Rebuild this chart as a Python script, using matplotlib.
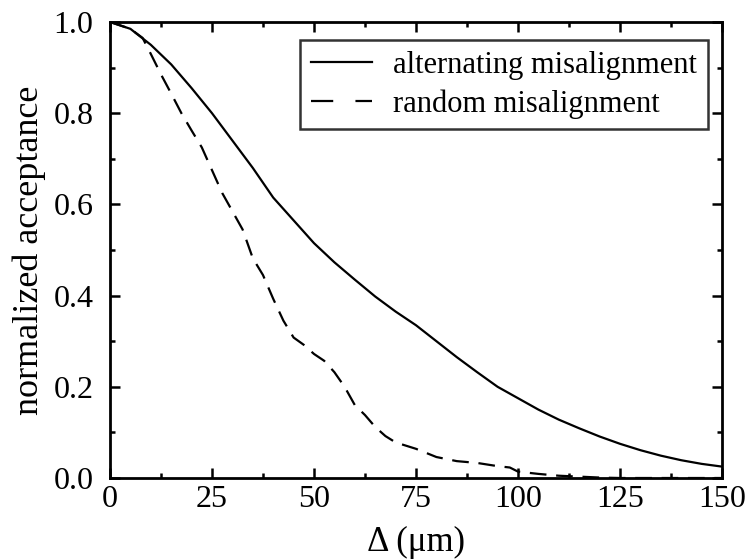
import matplotlib
matplotlib.use("Agg")
import matplotlib.pyplot as plt
from matplotlib.lines import Line2D
from matplotlib.ticker import MultipleLocator

plt.rcParams['font.family'] = ['Liberation Serif', 'DejaVu Serif']
plt.rcParams['lines.scale_dashes'] = False

# alternating misalignment (solid)
x_alt = [0, 5, 10, 15, 20, 25, 30, 35, 40, 45, 50, 55, 60, 65, 70, 75, 80, 85, 90,
         95, 100, 105, 110, 115, 120, 125, 130, 135, 140, 145, 150]
y_alt = [1.0, 0.985, 0.95, 0.907, 0.855, 0.80, 0.74, 0.68, 0.615, 0.565, 0.515, 0.473,
         0.435, 0.398, 0.365, 0.335, 0.30, 0.265, 0.232, 0.200, 0.175, 0.150, 0.128,
         0.109, 0.091, 0.075, 0.061, 0.049, 0.039, 0.031, 0.025]

# random misalignment (dashed)
x_rnd = [0, 5, 8, 10, 12.5, 15, 17.5, 20, 22.5, 25, 27.5, 30, 32.5, 35, 37.5, 40, 42.5,
         45, 47.5, 50, 52.5, 55, 57.5, 60, 62.5, 65, 67.5, 70, 75, 80, 85, 90, 95, 98,
         100, 105, 110, 115, 120, 125, 150]
y_rnd = [1.0, 0.985, 0.965, 0.93, 0.885, 0.843, 0.80, 0.762, 0.725, 0.675, 0.625, 0.585,
         0.545, 0.482, 0.445, 0.393, 0.345, 0.308, 0.292, 0.272, 0.257, 0.232, 0.20, 0.16,
         0.138, 0.112, 0.092, 0.078, 0.064, 0.046, 0.037, 0.033, 0.026, 0.023, 0.014,
         0.009, 0.005, 0.003, 0.001, 0.0, 0.0]

labels = ["alternating misalignment", "random misalignment"]

fig = plt.figure(figsize=(7.52, 5.59), dpi=100)
ax = fig.add_axes([110/752, 1-478/559, (722-110)/752, (478-22)/559])

ax.plot(x_alt, y_alt, color='black', lw=1.6, solid_joinstyle='round')
ax.plot(x_rnd, y_rnd, color='black', lw=1.6, dashes=(12, 7))

ax.set_xlim(0, 150)
ax.set_ylim(0, 1.0)
ax.xaxis.set_major_locator(MultipleLocator(25))
ax.xaxis.set_minor_locator(MultipleLocator(12.5))
ax.yaxis.set_major_locator(MultipleLocator(0.2))
ax.yaxis.set_minor_locator(MultipleLocator(0.1))
ax.set_yticklabels([f"{v:.1f}" for v in ax.get_yticks()])

for s in ax.spines.values():
    s.set_linewidth(2.0)
ax.tick_params(which='both', direction='in', top=True, right=True, width=1.8,
               labelsize=23)
ax.tick_params(which='major', length=7.2)
ax.tick_params(which='minor', length=3.6)
ax.tick_params(axis='x', pad=5)
ax.tick_params(axis='y', pad=12)

ax.set_xlabel("Δ (μm)", fontsize=25, labelpad=9)
ax.set_ylabel("normalized acceptance", fontsize=26, labelpad=5)

h1 = Line2D([], [], color='black', lw=1.6)
h2 = Line2D([], [], color='black', lw=1.6, dashes=(16, 16))
leg = ax.legend([h1, h2], labels, loc='upper right', bbox_to_anchor=(0.977, 0.96),
                fontsize=22, frameon=True, fancybox=False, handlelength=2.0,
                handletextpad=0.7, borderpad=0.35, labelspacing=0.3, borderaxespad=0)
leg.get_frame().set_edgecolor('black')
leg.get_frame().set_linewidth(1.8)

fig.savefig("out.png", dpi=100)
